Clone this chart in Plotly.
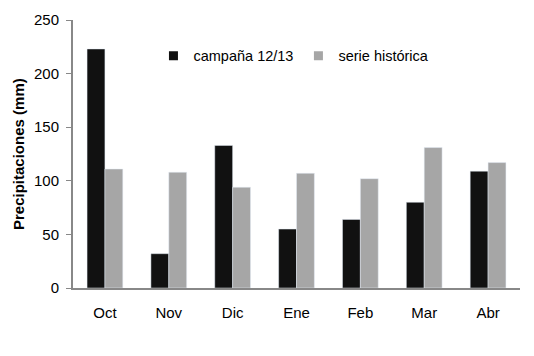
import plotly.graph_objects as go

months = ["Oct", "Nov", "Dic", "Ene", "Feb", "Mar", "Abr"]
campana = [223, 32, 133, 55, 64, 80, 109]
historica = [111, 108, 94, 107, 102, 131, 117]
series_names = ["campaña 12/13", "serie histórica"]
colors = ["#111111", "#a6a6a6"]
y_title = "Precipitaciones (mm)"

fig = go.Figure()
for name, vals, col in zip(series_names, [campana, historica], colors):
    fig.add_trace(go.Bar(x=months, y=vals, name=name, marker_color=col, showlegend=False))
# legend entries with small square markers
for name, col in zip(series_names, colors):
    fig.add_trace(go.Scatter(x=[None], y=[None], mode="markers", name=name,
                             marker=dict(symbol="square", size=9, color=col)))

fig.update_layout(
    width=534, height=356,
    margin=dict(l=65, r=22, t=12, b=76),
    paper_bgcolor="white", plot_bgcolor="white",
    barmode="group", bargap=0.44, bargroupgap=0,
    font=dict(family="Liberation Sans, Arial, sans-serif", size=15, color="#000"),
    showlegend=True,
    legend=dict(orientation="h", x=0.18, y=0.866, xanchor="left", yanchor="middle",
                font=dict(size=14.5), bgcolor="rgba(0,0,0,0)", itemwidth=30,
                traceorder="normal"),
)
fig.add_annotation(text="<b>" + y_title + "</b>", xref="paper", yref="paper",
                   x=0, y=0.5, xshift=-55, xanchor="center", yanchor="middle",
                   textangle=-90, showarrow=False, font=dict(size=15), borderpad=0)
fig.update_xaxes(showline=True, linecolor="#888888", linewidth=2, ticks="",
                 ticklabelstandoff=10, tickfont=dict(size=15), showgrid=False,
                 automargin=False)
fig.update_yaxes(range=[0, 250], dtick=50, showline=True, linecolor="#888888", linewidth=2,
                 ticks="outside", ticklen=5, tickcolor="#888888", tickwidth=1,
                 ticklabelstandoff=4,
                 showgrid=False, zeroline=False, tickfont=dict(size=15), automargin=False)

fig.write_html("out.html")
